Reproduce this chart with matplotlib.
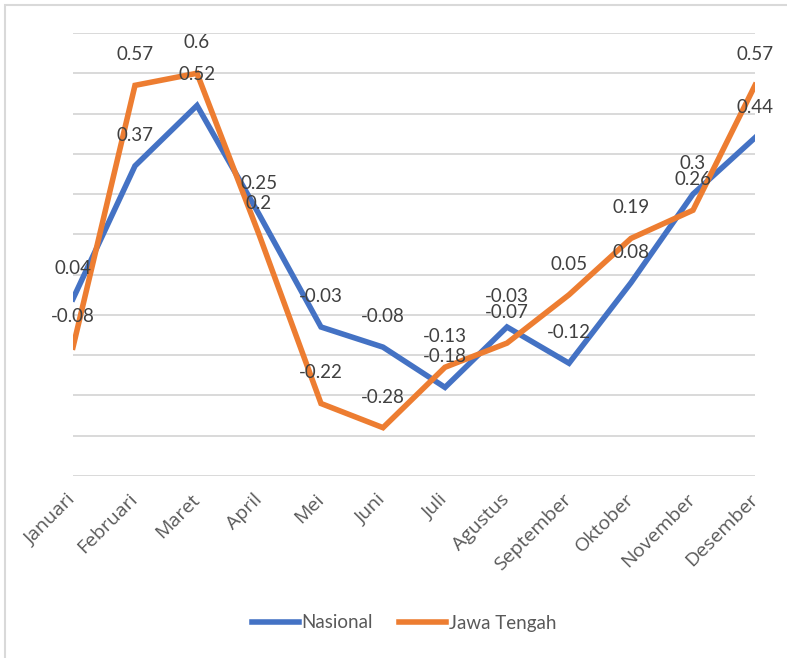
import matplotlib
matplotlib.use("Agg")
from matplotlib import pyplot as plt
from matplotlib.patches import Rectangle

months = ["Januari", "Februari", "Maret", "April", "Mei", "Juni", "Juli",
          "Agustus", "September", "Oktober", "November", "Desember"]
nasional = [0.04, 0.37, 0.52, 0.25, -0.03, -0.08, -0.18, -0.03, -0.12, 0.08, 0.3, 0.44]
jateng = [-0.08, 0.57, 0.6, 0.2, -0.22, -0.28, -0.13, -0.07, 0.05, 0.19, 0.26, 0.57]

blue = "#4472C4"
orange = "#ED7D31"
textColor = "#404040"

plt.rcParams['font.family'] = ['Lato', 'DejaVu Sans']

fig = plt.figure(figsize=(7.87, 6.58), dpi=100)
ax = fig.add_axes([73/787, 1 - 476/658, (755 - 73)/787, (476 - 33)/658])

x = list(range(len(months)))
ax.plot(x, nasional, color=blue, lw=4, label="Nasional", solid_joinstyle="miter", zorder=3)
ax.plot(x, jateng, color=orange, lw=4, label="Jawa Tengah", solid_joinstyle="miter", zorder=3)

# data labels above each point
for series in (nasional, jateng):
    for i, v in enumerate(series):
        ax.annotate("{:g}".format(v), (i, v), xytext=(0, 22), textcoords="offset points",
                    ha="center", va="center", fontsize=13.5, color=textColor,
                    annotation_clip=False, zorder=4)

ax.set_xlim(0, 11)
ax.set_ylim(-0.4, 0.7)
ax.set_yticks([round(-0.4 + 0.1*k, 1) for k in range(12)])
ax.yaxis.grid(True, color="#D9D9D9", lw=1.4)
ax.set_axisbelow(True)
ax.tick_params(axis="y", left=False, labelleft=False)
ax.tick_params(axis="x", length=0, pad=15)
ax.set_xticks(x)
ax.set_xticklabels(months, rotation=45, ha="right", va="center",
                   rotation_mode="anchor", fontsize=14, color="#595959",
                   family=["Open Sans", "DejaVu Sans"])
for s in ax.spines.values():
    s.set_visible(False)

leg = fig.legend(loc="center", bbox_to_anchor=(404/787, 1 - 623/658), ncol=2,
                 frameon=False, fontsize=13.5, handlelength=2.5, handletextpad=0.15,
                 columnspacing=1.4)
for t in leg.get_texts():
    t.set_color("#595959")

# chart area border (left and top visible in the source)
fig.patches.append(Rectangle((5/787, -0.1), 1.2, 1 - 5/658 + 0.1, transform=fig.transFigure,
                             fill=False, edgecolor="#D9D9D9", lw=1.5))

fig.savefig("out.png", dpi=100)
